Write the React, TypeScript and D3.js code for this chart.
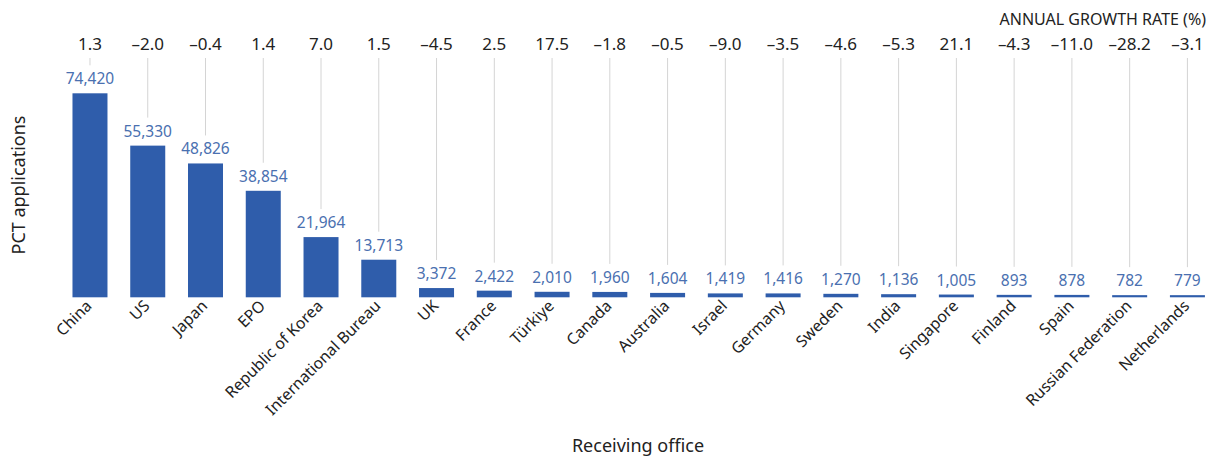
import React from "react";
import * as d3 from "d3";

const categories = [
  "China", "US", "Japan", "EPO", "Republic of Korea", "International Bureau", "UK", "France",
  "Türkiye", "Canada", "Australia", "Israel", "Germany", "Sweden", "India", "Singapore",
  "Finland", "Spain", "Russian Federation", "Netherlands",
];
const applications = [
  74420, 55330, 48826, 38854, 21964, 13713, 3372, 2422, 2010, 1960, 1604, 1419, 1416, 1270,
  1136, 1005, 893, 878, 782, 779,
];
const growth = [
  1.3, -2.0, -0.4, 1.4, 7.0, 1.5, -4.5, 2.5, 17.5, -1.8, -0.5, -9.0, -3.5, -4.6, -5.3, 21.1,
  -4.3, -11.0, -28.2, -3.1,
];

const W = 1213;
const H = 456;
const FONT = "'Noto Sans', 'Open Sans', sans-serif";
const BAR = "#2f5dab";
const LABEL_BLUE = "#4a70b0";
const GRID = "#d4d4d4";
const TEXT = "#222";

const fmtGrowth = (v: number) => (v < 0 ? "\u2013" : "") + Math.abs(v).toFixed(1);
const fmtCount = d3.format(",");

export default function App() {
  const x = d3
    .scaleBand<string>()
    .domain(categories)
    .range([61.1, 1216.3])
    .paddingInner(0.394)
    .paddingOuter(0.197);
  const y = d3.scaleLinear().domain([0, 74420]).range([297.3, 93.3]);
  const bw = x.bandwidth();

  return (
    <svg
      width={W}
      height={H}
      style={{ position: "absolute", left: 0, top: 0, background: "#fff" }}
      fontFamily={FONT}
    >
      <rect x={0} y={0} width={W} height={H} fill="#fff" />
      <text x={1206} y={24.5} textAnchor="end" fontSize={16} fill={TEXT}>
        ANNUAL GROWTH RATE (%)
      </text>
      {categories.map((c, i) => {
        const cx = (x(c) as number) + bw / 2;
        const top = y(applications[i]);
        return (
          <g key={c}>
            <line x1={cx} x2={cx} y1={58} y2={top - 28} stroke={GRID} strokeWidth={1} />
            <text x={cx} y={49.5} textAnchor="middle" fontSize={17} fill={TEXT}>
              {fmtGrowth(growth[i])}
            </text>
            <rect x={x(c)} y={top} width={bw} height={y(0) - top} fill={BAR} />
            <text x={cx} y={top - 9} textAnchor="middle" fontSize={15.5} fill={LABEL_BLUE}>
              {fmtCount(applications[i])}
            </text>
            <text
              transform={`translate(${cx - 1},${303}) rotate(-45)`}
              textAnchor="end"
              dy="0.35em"
              fontSize={15.8}
              fill={TEXT}
            >
              {c}
            </text>
          </g>
        );
      })}
      <text
        transform={`translate(25,185) rotate(-90)`}
        textAnchor="middle"
        fontSize={18}
        fill={TEXT}
      >
        PCT applications
      </text>
      <text x={638} y={452} textAnchor="middle" fontSize={18} fill={TEXT}>
        Receiving office
      </text>
    </svg>
  );
}
